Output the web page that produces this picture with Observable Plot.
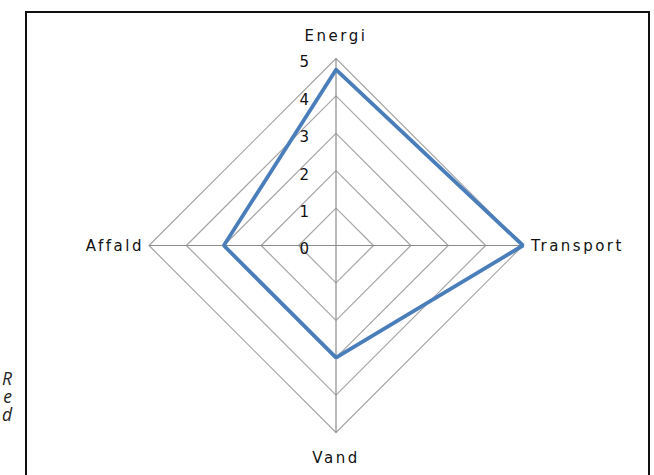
<!DOCTYPE html>
<html><head><meta charset="utf-8">
<script src="https://cdn.jsdelivr.net/npm/d3@7"></script>
<script src="https://cdn.jsdelivr.net/npm/@observablehq/plot@0.6"></script>
<style>
html,body{margin:0;padding:0;background:#fff;width:654px;height:475px;overflow:hidden;}
#frame{position:absolute;left:25px;top:11px;width:625px;height:490px;border:2px solid #111;box-sizing:border-box;}
#side{position:absolute;left:0;top:369px;width:12px;text-align:right;font-family:"Open Sans";font-style:italic;font-size:17.5px;line-height:18px;color:#222;white-space:pre-line;}
#chart{position:absolute;left:0;top:0;}
</style>
</head><body>
<div id="frame"></div>
<div id="side"></div>
<div id="chart"></div>
<script>
const axes = ["Energi", "Transport", "Vand", "Affald"];
const values = [4.7, 5, 3, 3];
const ticks = [0, 1, 2, 3, 4, 5];
const sideText = "R\ne\nd";

document.getElementById("side").textContent = sideText;

const W = 654, H = 475, cx = 335.5, cy = 245, R = 187;
const maxV = d3.max(ticks);
const u = R / maxV;
const n = axes.length;
const ang = i => (i % n) * 2 * Math.PI / n;
const px = (i, v) => v * Math.sin(ang(i));
const py = (i, v) => v * Math.cos(ang(i));

const grid = ticks.filter(t => t > 0).flatMap(t =>
  d3.range(n + 1).map(k => ({level: t, x: px(k, t), y: py(k, t)})));
const spokes = axes.map((a, i) => ({axis: a, i, x: px(i, maxV), y: py(i, maxV)}));
const series = d3.range(n + 1).map(k => ({x: px(k, values[k % n]), y: py(k, values[k % n])}));

const lab = (i, opts) => Plot.text(spokes.filter(d => d.i === i), {
  x: "x", y: "y", text: "axis", fontSize: 15, fill: "#111", ...opts});

const chart = Plot.plot({
  width: W, height: H, margin: 0,
  style: {fontFamily: "DejaVu Sans", background: "transparent"},
  x: {domain: [-cx / u, (W - cx) / u], range: [0, W], axis: null},
  y: {domain: [-(H - cy) / u, cy / u], range: [H, 0], axis: null},
  marks: [
    Plot.line(grid, {x: "x", y: "y", z: "level", stroke: "#a6a6a6", strokeWidth: 1.2}),
    Plot.link(spokes, {x1: 0, y1: 0, x2: "x", y2: "y", stroke: "#8c8c8c", strokeWidth: 1.2}),
    Plot.line(series, {x: "x", y: "y", stroke: "#4a7ebb", strokeWidth: 3.8, strokeLinejoin: "miter", curve: "linear"}),
    Plot.text(ticks, {x: 0, y: d => d, text: d => String(d), textAnchor: "end", dx: -27, dy: 4, fontSize: 15, fill: "#111"}),
    lab(0, {dy: -22}),
    lab(1, {dx: 8, dy: 1, textAnchor: "start"}),
    lab(2, {dy: 26}),
    lab(3, {dx: -5, dy: 1, textAnchor: "end"})
  ]
});
d3.select(chart).selectAll("text").filter(function () { return axes.includes(this.textContent); })
  .style("letter-spacing", "2.5px");
document.getElementById("chart").appendChild(chart);
</script>
</body></html>
